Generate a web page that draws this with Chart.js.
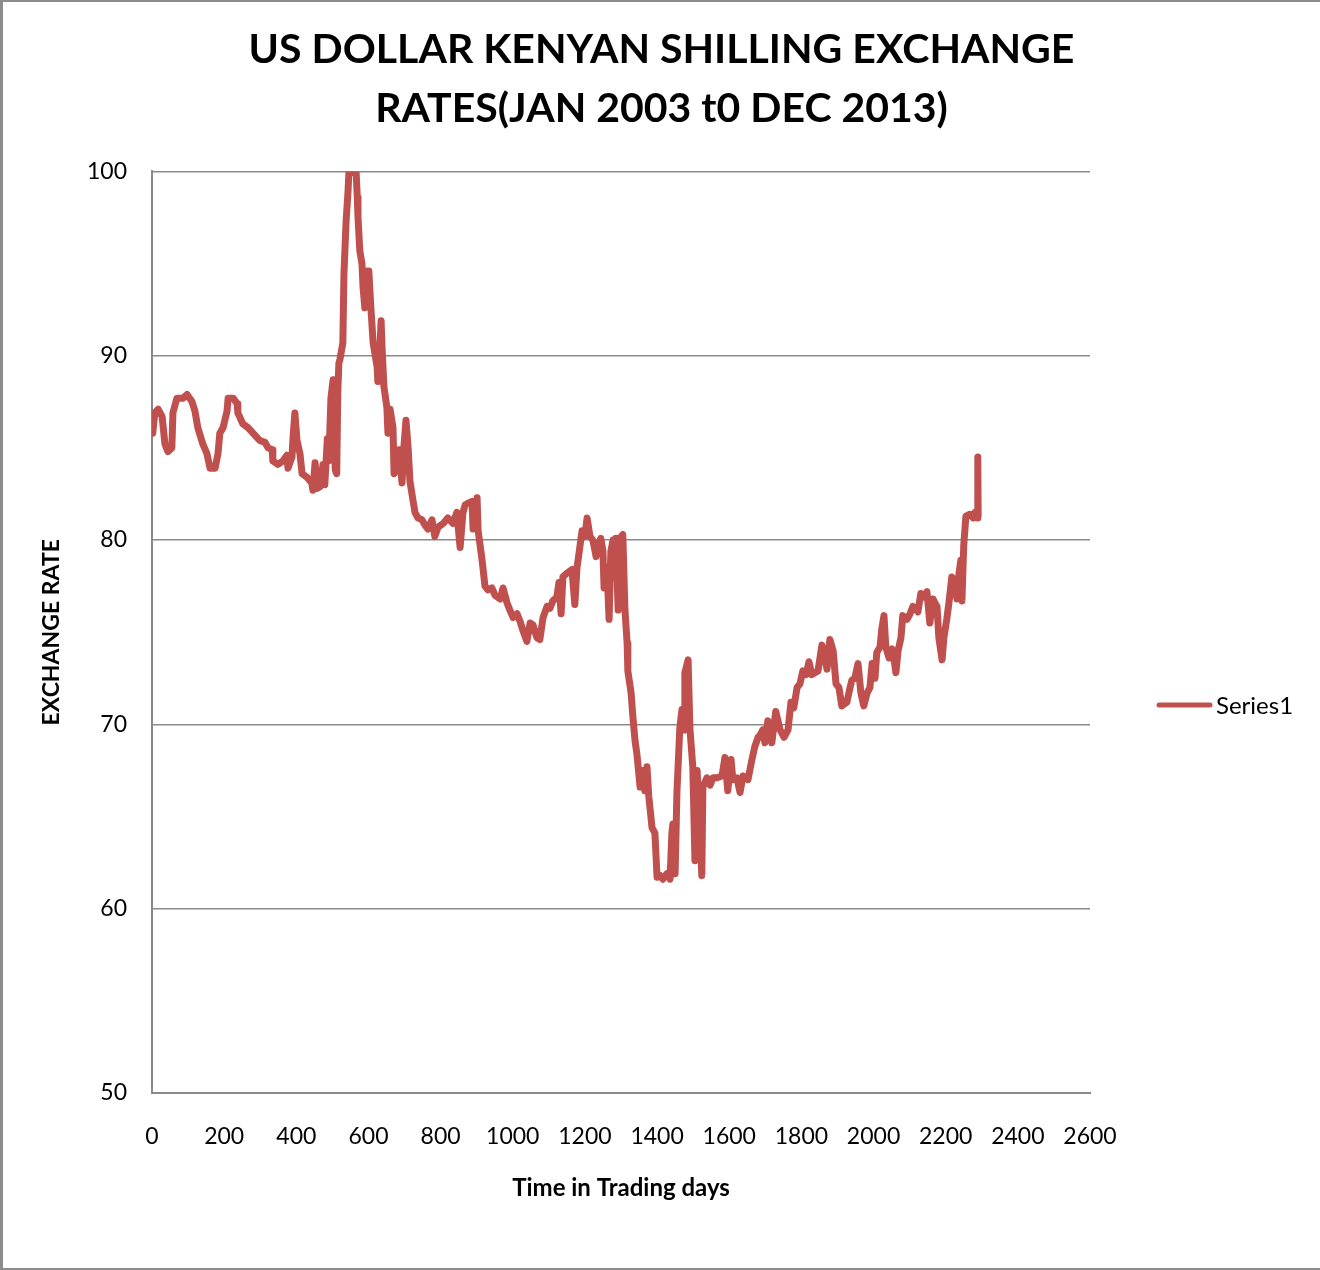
<!DOCTYPE html>
<html>
<head>
<meta charset="utf-8">
<title>USD / KES exchange rate</title>
<script src="https://cdn.jsdelivr.net/npm/chart.js@4.4.1/dist/chart.umd.min.js"></script>
<style>
  html, body { margin: 0; padding: 0; background: #fff; }
  #frame {
    position: absolute; left: 0; top: 0;
    width: 1317px; height: 1266px;
    border-left: 3px solid #8c8c8c;
    border-top: 2px solid #8c8c8c;
    border-bottom: 2px solid #8c8c8c;
    background: #fff;
  }
  canvas { display: block; }
</style>
</head>
<body>
<div id="frame"><canvas id="fxChart" width="1317" height="1266"></canvas></div>
<script>
// trading day index and USD/KES rate
const tradingDays = [
  2, 8, 17, 28, 36, 44, 55, 58, 69, 86, 97, 111, 119, 127, 141, 152, 161, 175, 183, 188,
  197, 208, 211, 225, 236, 238, 252, 266, 280, 299, 313, 322, 333, 335, 349, 363, 374, 377, 388, 391,
  396, 402, 410, 416, 430, 443, 446, 452, 457, 466, 474, 479, 486, 490, 496, 502, 505, 508, 512, 515,
  518, 521, 529, 532, 538, 543, 546, 557, 566, 569, 571, 576, 582, 585, 590, 596, 601, 607, 613, 624,
  626, 632, 635, 638, 643, 651, 654, 660, 668, 671, 679, 685, 693, 698, 704, 710, 715, 723, 729, 737,
  748, 757, 765, 776, 784, 793, 807, 820, 834, 845, 854, 862, 868, 876, 887, 890, 901, 904, 915, 923,
  931, 942, 951, 965, 973, 984, 992, 1001, 1012, 1020, 1028, 1039, 1048, 1056, 1067, 1075, 1084, 1095, 1103, 1111,
  1122, 1128, 1134, 1139, 1150, 1164, 1172, 1178, 1181, 1192, 1200, 1206, 1214, 1222, 1231, 1236, 1244, 1250, 1253, 1261,
  1267, 1272, 1278, 1280, 1286, 1292, 1297, 1305, 1311, 1317, 1319, 1328, 1333, 1339, 1344, 1353, 1361, 1366, 1372, 1377,
  1386, 1394, 1400, 1408, 1416, 1427, 1436, 1441, 1444, 1450, 1455, 1463, 1469, 1475, 1477, 1486, 1488, 1491, 1499, 1505,
  1511, 1516, 1524, 1527, 1538, 1547, 1555, 1566, 1580, 1588, 1596, 1605, 1610, 1621, 1630, 1638, 1652, 1663, 1671, 1680,
  1685, 1693, 1699, 1707, 1718, 1729, 1741, 1752, 1763, 1771, 1779, 1788, 1796, 1804, 1813, 1821, 1829, 1846, 1857, 1865,
  1871, 1879, 1888, 1896, 1904, 1912, 1926, 1935, 1940, 1948, 1957, 1965, 1973, 1982, 1990, 1996, 2004, 2009, 2018, 2023,
  2029, 2034, 2043, 2051, 2057, 2062, 2068, 2076, 2081, 2093, 2101, 2109, 2123, 2131, 2137, 2148, 2156, 2165, 2170, 2176,
  2181, 2190, 2195, 2203, 2209, 2217, 2226, 2231, 2237, 2242, 2245, 2250, 2256, 2267, 2276, 2281, 2287, 2289, 2290
];
const rates = [
  85.8, 86.9, 87.1, 86.7, 85.2, 84.8, 85.0, 86.9, 87.7, 87.7, 87.9, 87.5, 87.0, 86.1, 85.2, 84.7, 83.9, 83.9, 84.7, 85.8,
  86.1, 87.0, 87.7, 87.7, 87.4, 86.9, 86.3, 86.1, 85.8, 85.4, 85.3, 85.0, 84.9, 84.3, 84.1, 84.3, 84.6, 83.9, 84.5, 85.6,
  86.9, 85.4, 84.7, 83.6, 83.4, 83.1, 82.7, 84.2, 82.8, 82.9, 84.1, 83.0, 85.5, 84.3, 87.7, 88.7, 86.0, 83.8, 83.6, 88.0,
  89.6, 89.8, 90.7, 94.4, 97.3, 98.8, 100.0, 100.0, 99.9, 98.6, 97.5, 95.7, 95.0, 93.7, 92.6, 94.6, 94.6, 92.5, 90.7, 89.4,
  88.6, 90.5, 91.9, 90.3, 88.3, 87.2, 85.8, 87.1, 86.1, 83.6, 83.9, 84.9, 83.1, 85.0, 86.5, 85.0, 83.2, 82.2, 81.5, 81.2,
  81.1, 80.8, 80.6, 81.1, 80.2, 80.7, 80.9, 81.2, 80.9, 81.5, 79.6, 81.5, 81.9, 82.0, 82.1, 80.6, 82.3, 80.5, 78.9, 77.5,
  77.3, 77.4, 77.0, 76.8, 77.4, 76.6, 76.2, 75.8, 76.0, 75.6, 75.1, 74.5, 75.5, 75.4, 74.7, 74.6, 75.8, 76.4, 76.3, 76.7,
  76.9, 77.7, 76.0, 78.0, 78.2, 78.4, 76.5, 78.5, 78.9, 80.5, 80.2, 81.2, 80.2, 80.0, 79.1, 79.6, 80.1, 79.4, 77.4, 78.5,
  75.7, 79.4, 80.0, 78.0, 80.1, 76.2, 80.1, 80.3, 76.2, 74.4, 72.9, 71.7, 70.4, 69.1, 68.4, 66.6, 67.5, 66.4, 67.7, 66.1,
  64.4, 64.1, 61.7, 61.8, 61.6, 61.9, 61.6, 64.1, 64.6, 61.9, 66.3, 69.8, 70.8, 69.7, 72.8, 73.5, 73.5, 69.8, 67.7, 62.6,
  67.5, 65.3, 61.8, 66.6, 67.1, 66.7, 67.1, 67.1, 67.2, 68.2, 66.4, 68.1, 67.0, 67.1, 66.3, 67.2, 67.0, 68.1, 68.8, 69.3,
  69.4, 69.7, 69.0, 70.2, 69.0, 70.7, 69.7, 69.3, 69.7, 71.2, 70.9, 72.0, 72.2, 72.9, 72.7, 73.4, 72.7, 72.9, 74.3, 73.6,
  73.0, 74.6, 74.0, 72.2, 72.0, 71.0, 71.2, 72.0, 72.4, 72.5, 73.3, 71.7, 71.0, 71.7, 72.0, 73.3, 72.5, 73.9, 74.2, 75.2,
  75.9, 74.2, 73.6, 74.1, 73.5, 72.8, 74.0, 74.7, 75.9, 75.7, 76.0, 76.4, 76.1, 77.1, 76.9, 77.2, 75.5, 76.8, 76.6, 76.4,
  74.7, 73.5, 74.7, 75.7, 76.6, 78.0, 77.4, 76.8, 78.2, 78.9, 76.7, 79.7, 81.3, 81.4, 81.2, 81.5, 81.2, 84.5, 81.3
];
const xTickValues = [0, 200, 400, 600, 800, 1000, 1200, 1400, 1600, 1800, 2000, 2200, 2400, 2600];
const yTickValues = [50, 60, 70, 80, 90, 100];

const seriesColor = '#c0504d';
const gridColor = '#8a8a8a';
const fontStack = 'Lato, "Open Sans", sans-serif';

Chart.defaults.font.family = fontStack;
Chart.defaults.color = '#000';

// legend key drawn in the empty band right of the plot
const sideLegend = {
  id: 'sideLegend',
  afterDraw(chart) {
    const {ctx, chartArea} = chart;
    const ds = chart.data.datasets[0];
    const x0 = chartArea.right + 69;
    const y0 = 703;
    ctx.save();
    ctx.strokeStyle = ds.borderColor;
    ctx.lineWidth = 5;
    ctx.lineCap = 'round';
    ctx.beginPath();
    ctx.moveTo(x0, y0);
    ctx.lineTo(x0 + 51, y0);
    ctx.stroke();
    ctx.fillStyle = '#000';
    ctx.font = '24px ' + fontStack;
    ctx.textBaseline = 'middle';
    ctx.fillText(ds.label, x0 + 57, y0 + 1);
    ctx.restore();
  }
};

const points = tradingDays.map((d, i) => ({x: d, y: rates[i]}));

new Chart(document.getElementById('fxChart'), {
  type: 'line',
  data: {
    datasets: [{
      label: 'Series1',
      data: points,
      borderColor: seriesColor,
      backgroundColor: seriesColor,
      borderWidth: 7,
      borderJoinStyle: 'round',
      borderCapStyle: 'round',
      pointRadius: 0,
      tension: 0
    }]
  },
  options: {
    responsive: false,
    animation: false,
    layout: { padding: 0 },
    plugins: {
      legend: { display: false },
      tooltip: { enabled: false },
      title: {
        display: true,
        text: ['US DOLLAR KENYAN SHILLING EXCHANGE', 'RATES(JAN 2003 t0 DEC 2013)'],
        font: { size: 41, weight: 'bold', lineHeight: 1.42 },
        color: '#000',
        padding: { top: 19, bottom: 34 }
      }
    },
    scales: {
      x: {
        type: 'linear',
        min: 0,
        max: 2600,
        afterBuildTicks: s => { s.ticks = xTickValues.map(v => ({value: v})); },
        afterFit: s => { s.height = 175; },
        grid: { display: false, drawTicks: false },
        border: { display: true, color: gridColor, width: 2 },
        ticks: { font: { size: 23 }, padding: 30, maxRotation: 0, autoSkip: false, callback: v => String(v) },
        title: {
          display: true,
          text: 'Time in Trading days',
          font: { size: 24, weight: 'bold' },
          padding: { bottom: 65 }
        }
      },
      y: {
        min: 50,
        max: 100,
        afterBuildTicks: s => { s.ticks = yTickValues.map(v => ({value: v})); },
        afterFit: s => { s.width = 149; },
        grid: { color: gridColor, lineWidth: 1.5, drawTicks: false },
        border: { display: true, color: gridColor, width: 2 },
        ticks: { font: { size: 23 }, padding: 25, callback: v => String(v) },
        title: {
          display: true,
          text: 'EXCHANGE RATE',
          font: { size: 23, weight: 'bold' },
          padding: { top: 35 }
        }
      },
      // empty band on the right that holds the legend key
      keyBand: {
        position: 'right',
        afterFit: s => { s.width = 230; },
        grid: { display: false },
        border: { display: false },
        ticks: { display: false }
      }
    }
  },
  plugins: [sideLegend]
});
</script>
</body>
</html>
